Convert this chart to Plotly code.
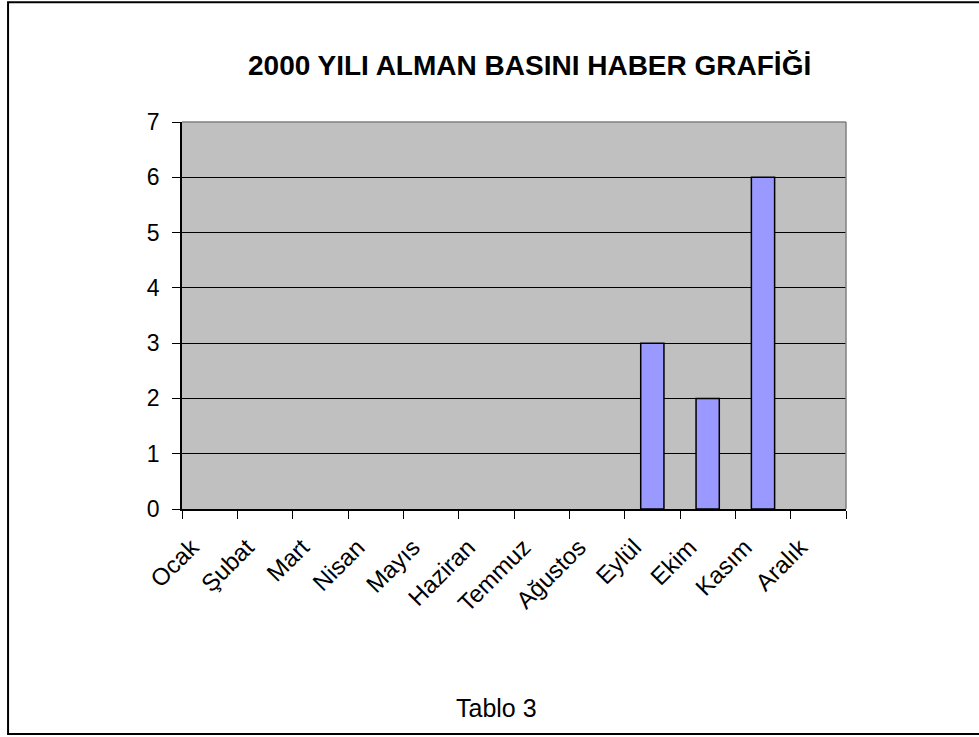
import plotly.graph_objects as go

months = ["Ocak", "Şubat", "Mart", "Nisan", "Mayıs", "Haziran", "Temmuz",
          "Ağustos", "Eylül", "Ekim", "Kasım", "Aralık"]
counts = [0, 0, 0, 0, 0, 0, 0, 0, 3, 2, 6, 0]
y_ticks = [0, 1, 2, 3, 4, 5, 6, 7]
title_text = "2000 YILI ALMAN BASINI HABER GRAFİĞİ"
footer_text = "Tablo 3"

W, H = 979, 737
L, R, T, B = 181.5, 845.7, 121.5, 509.5
pw, ph = R - L, B - T


def px(x):
    return (x - L) / pw


def py(y):
    return (B - y) / ph


FONT = "Liberation Sans, Arial, sans-serif"

fig = go.Figure()
fig.add_trace(go.Bar(
    x=months, y=counts, width=0.42,
    marker=dict(color="#9999FF",
                line=dict(color="black",
                          width=[1.5 if c > 0 else 0 for c in counts])),
    showlegend=False, hoverinfo="x+y",
))

fig.update_layout(
    width=W, height=H,
    margin=dict(l=L, r=W - R, t=T, b=H - B, pad=0),
    paper_bgcolor="white",
    plot_bgcolor="#C0C0C0",
    font=dict(family=FONT, size=23, color="black"),
    xaxis=dict(
        type="category", categoryorder="array", categoryarray=months,
        tickangle=-45, ticks="outside", ticklen=8, tickcolor="black", tickwidth=1,
        tickson="boundaries", showgrid=False, showline=True, linecolor="black",
        linewidth=1.5, zeroline=False, tickfont=dict(size=24),
        ticklabelstandoff=13, ticklabelshift=-18, fixedrange=True,
    ),
    yaxis=dict(
        range=[0, 7], tickvals=y_ticks, ticks="outside", ticklen=8,
        tickcolor="black", tickwidth=1, showgrid=True, gridcolor="black",
        gridwidth=1, showline=True, linecolor="black", linewidth=1.5,
        zeroline=False, tickfont=dict(size=23), ticklabelstandoff=8,
        fixedrange=True,
    ),
    shapes=[
        dict(type="line", xref="paper", yref="paper", x0=0, x1=1, y0=1, y1=1,
             line=dict(color="#808080", width=1.5), layer="above"),
        dict(type="line", xref="paper", yref="paper", x0=1, x1=1, y0=0, y1=1,
             line=dict(color="#808080", width=1.5), layer="above"),
        dict(type="rect", xref="paper", yref="paper",
             x0=px(7.5), x1=px(985), y0=py(735), y1=py(1.5),
             line=dict(color="black", width=2), fillcolor="rgba(0,0,0,0)"),
    ],
    annotations=[
        dict(text="<b>" + title_text + "</b>", xref="paper", yref="paper",
             x=px(529), y=py(65), xanchor="center", yanchor="middle",
             showarrow=False, font=dict(size=28, family=FONT)),
        dict(text=footer_text, xref="paper", yref="paper",
             x=px(496), y=py(709), xanchor="center", yanchor="middle",
             showarrow=False, font=dict(size=25, family=FONT)),
    ],
)

fig.write_html("out.html")
